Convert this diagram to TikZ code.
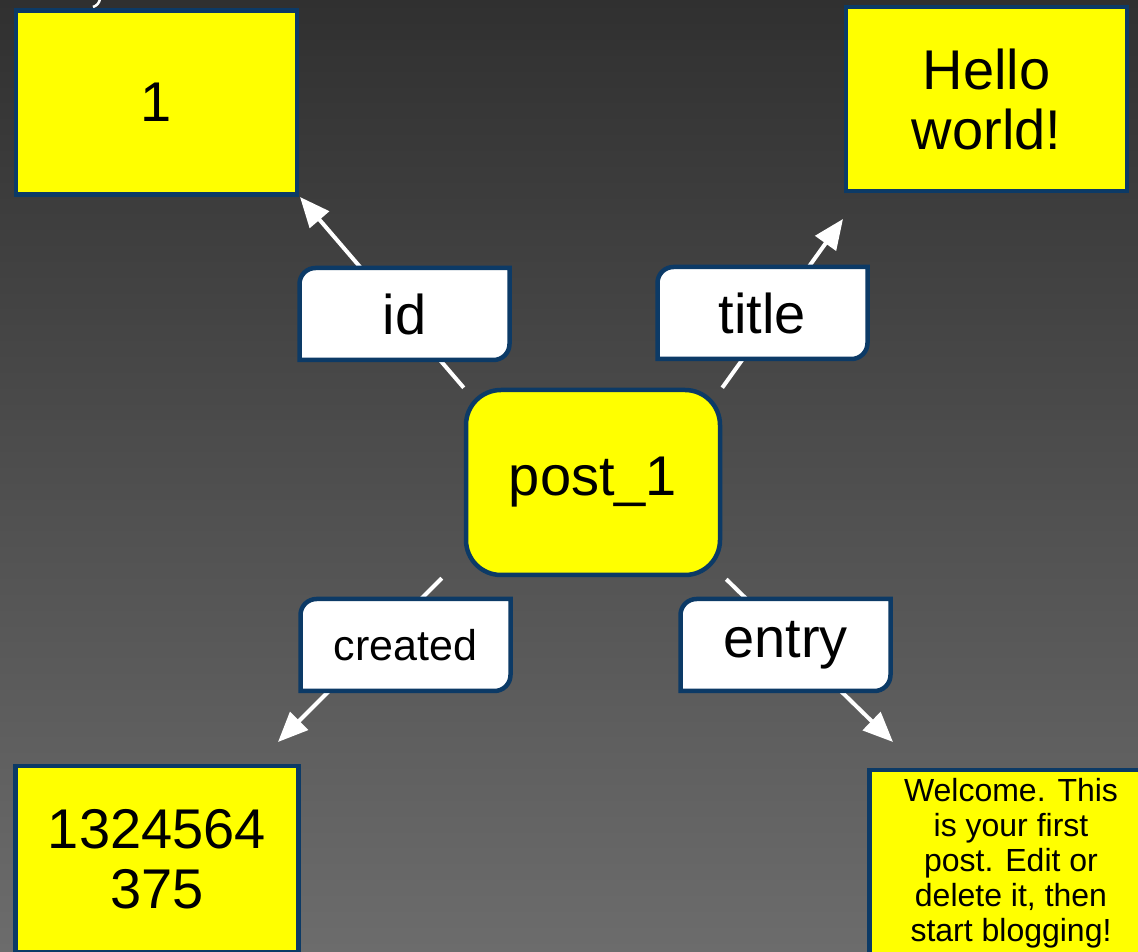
\documentclass[tikz,border=0pt]{standalone}
\usepackage{fontspec}
\setmainfont{Liberation Sans}
\usetikzlibrary{arrows.meta,calc}
\definecolor{navy}{RGB}{12,58,102}
\definecolor{ylw}{RGB}{255,255,0}
\definecolor{bgtop}{RGB}{48,48,48}
\definecolor{bgmid}{RGB}{56,56,56}
\definecolor{bgbot}{RGB}{108,108,108}
\pgfdeclarelayer{bg}
\pgfsetlayers{bg,main}
\newcommand\lblbox[4]{%
  \filldraw[lblshape] ({#2+105},{#3+46}) -- ({#2+105},{#3-30})
    arc[start angle=0,end angle=-90,radius=16] -- ({#2-105},{#3-46})
    -- ({#2-105},{#3+30}) arc[start angle=180,end angle=90,radius=16] -- cycle;
  \node[lbltext] (#1) at (#2,#3) {#4};}
\begin{document}
\begin{tikzpicture}[x=1pt,y=1pt,
  box/.style={draw=navy, line width=4.5pt, fill=ylw, inner sep=0pt, align=center,
    font=\fontsize{56}{60}\selectfont},
  smallbox/.style={box, font=\fontsize{32}{35}\selectfont},
  lblshape/.style={draw=navy, line width=4.5pt, fill=white},
  lbltext/.style={inner sep=0pt, font=\fontsize{56}{60}\selectfont},
  conn/.style={white, line width=4pt, -{Triangle[length=30pt,width=25pt]}}]
\useasboundingbox (0,0) rectangle (1138,951);
\clip (0,0) rectangle (1138,951);
\begin{pgfonlayer}{bg}
\shade[top color=bgtop, middle color=bgmid, bottom color=bgbot] (0,0) rectangle (1138,951);
\end{pgfonlayer}

% value boxes
\node[box, minimum width=281pt, minimum height=184pt] (one) at (156.5,848.5) {1};
\node[box, minimum width=281pt, minimum height=184pt] (hello) at (986.5,852) {Hello\\world!};
\node[box, minimum width=283pt, minimum height=186pt] (num) at (157,92) {1324564\\375};
\node[smallbox, minimum width=283pt, minimum height=186pt] (welcome) at (1011,88)
  {Welcome. This\\is your first\\post. Edit or\\delete it, then\\start blogging!};
\node[box, rounded corners=35pt, minimum width=254pt, minimum height=185pt] (post) at (593,468.5) {post\_1};

% arrow tips
\coordinate (t1) at (300,754);
\coordinate (t2) at (843,732);
\coordinate (t3) at (278,209);
\coordinate (t4) at (893,209);
\coordinate (tick) at (100,952);

\begin{pgfonlayer}{bg}
\draw[conn] (post.north west) -- (t1);
\draw[conn] (post.north east) -- (t2);
\draw[conn] ($(post.south west)+(-22,-1)$) -- (t3);
\draw[conn] ($(post.south east)+(4,-2)$) -- (t4);
\draw[white, line width=2.5pt] (tick) to[bend left=30] ++(-7,-8);
\end{pgfonlayer}

% edge labels
\lblbox{lid}{404.5}{637}{id}
\lblbox{ltitle}{762.5}{638}{title}
\lblbox{lcreated}{405.5}{306}{\fontsize{43}{46}\selectfont created}
\lblbox{lentry}{785.5}{306}{entry}
\end{tikzpicture}
\end{document}
